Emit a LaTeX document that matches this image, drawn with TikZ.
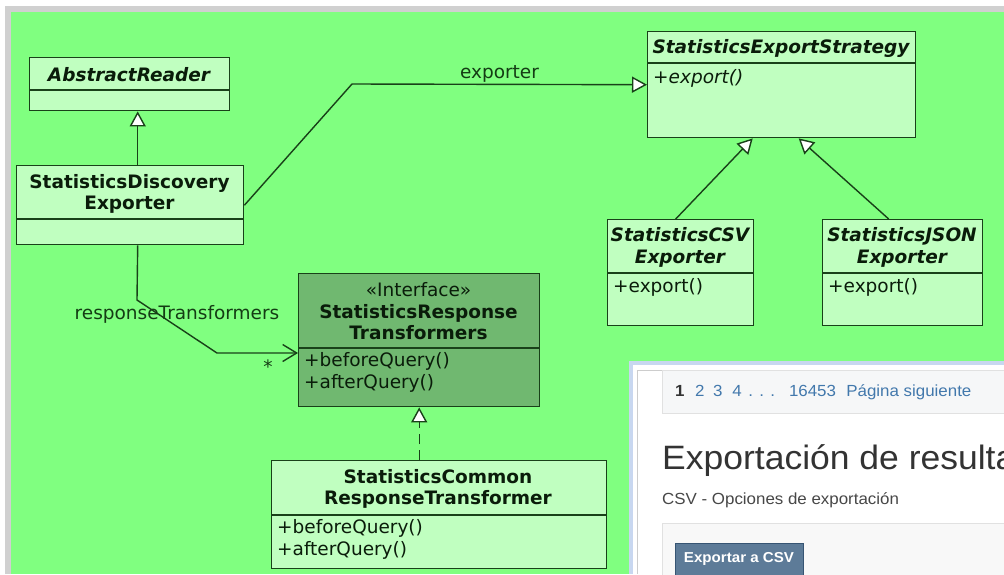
\documentclass[tikz,border=0pt]{standalone}
\usepackage{fontspec}
\usepackage{tikz}
\usetikzlibrary{arrows.meta}

\newfontfamily\umlfont{DejaVu Sans}
\newfontfamily\webfont[FakeStretch=1.05]{Liberation Sans}
\newcommand{\umlsize}{\fontsize{18.5}{21.5}\selectfont}
\newcommand{\opsize}{\fontsize{18.5}{22}\selectfont}

\definecolor{bggreen}{RGB}{128,255,128}
\definecolor{framegray}{RGB}{208,208,208}
\definecolor{boxfill}{RGB}{192,255,192}
\definecolor{ifacefill}{RGB}{112,184,112}
\definecolor{umlline}{RGB}{25,65,25}
\definecolor{umltext}{RGB}{10,28,10}
\definecolor{labeltext}{RGB}{20,60,20}
\definecolor{webframe}{RGB}{200,215,240}
\definecolor{webgray}{RGB}{205,205,205}
\definecolor{pagerfill}{RGB}{246,247,248}
\definecolor{panelfill}{RGB}{248,248,248}
\definecolor{linkblue}{RGB}{66,120,172}
\definecolor{webdark}{RGB}{51,51,51}
\definecolor{btnfill}{RGB}{93,123,152}
\definecolor{btnline}{RGB}{55,85,115}

\tikzset{
  classbox/.style={draw=umlline, fill=boxfill, line width=1.4pt, anchor=north west, inner sep=0pt},
  ifacebox/.style={classbox, fill=ifacefill},
  cname/.style={font=\umlfont\umlsize\bfseries, text=umltext, align=center, inner sep=0pt},
  aname/.style={cname, font=\umlfont\umlsize\bfseries\itshape},
  ops/.style={font=\umlfont\opsize, text=umltext, align=left, anchor=north west, inner sep=0pt},
  rolelabel/.style={font=\umlfont\umlsize, text=labeltext, inner sep=0pt},
  conn/.style={draw=umlline, line width=1.4pt},
  inherit/.style={conn, -{Triangle[fill=white, length=15pt, width=16pt]}},
  realize/.style={inherit, dash pattern=on 10pt off 6pt},
  navig/.style={conn, -{Straight Barb[length=14pt, width=17pt]}},
  webtext/.style={font=\webfont\fontsize{16.1}{19}\selectfont, inner sep=0pt, anchor=base west},
}

\begin{document}
\begin{tikzpicture}[x=1pt, y=-1pt]
  \useasboundingbox (0,0) rectangle (1004,574);
  \clip (0,0) rectangle (1004,574);

  % canvas
  \fill[white] (0,0) rectangle (1004,574);
  \fill[framegray] (5,6) rectangle (1004,574);
  \fill[bggreen] (11,12) rectangle (1004,574);

  % classes
  \node[classbox, minimum width=200pt, minimum height=53pt] (reader) at (29,57) {};
  \draw[conn] ([yshift=-33pt]reader.north west) -- ([yshift=-33pt]reader.north east);
  \node[aname] (readertitle) at (129,74.5) {AbstractReader};

  \node[classbox, minimum width=227pt, minimum height=79pt] (disc) at (16,165) {};
  \draw[conn] ([yshift=-54pt]disc.north west) -- ([yshift=-54pt]disc.north east);
  \node[cname] (disctitle) at (129.5,194) {StatisticsDiscovery\\Exporter};

  \node[classbox, minimum width=268pt, minimum height=106pt] (strat) at (647,31) {};
  \draw[conn] ([yshift=-32pt]strat.north west) -- ([yshift=-32pt]strat.north east);
  \node[aname] (strattitle) at (781,48) {StatisticsExportStrategy};
  \node[ops, font=\umlfont\opsize\itshape] (stratops) at (653,69) {+export()};

  \node[classbox, minimum width=146pt, minimum height=106pt] (csv) at (607,219) {};
  \draw[conn] ([yshift=-54pt]csv.north west) -- ([yshift=-54pt]csv.north east);
  \node[aname] (csvtitle) at (680,247.5) {StatisticsCSV\\Exporter};
  \node[ops] (csvops) at (613,278) {+export()};

  \node[classbox, minimum width=160pt, minimum height=106pt] (json) at (822,219) {};
  \draw[conn] ([yshift=-54pt]json.north west) -- ([yshift=-54pt]json.north east);
  \node[aname] (jsontitle) at (902,247.5) {StatisticsJSON\\Exporter};
  \node[ops] (jsonops) at (828,278) {+export()};

  \node[ifacebox, minimum width=241pt, minimum height=133pt] (iface) at (298,273) {};
  \draw[conn] ([yshift=-75pt]iface.north west) -- ([yshift=-75pt]iface.north east);
  \node[cname] (ifacetitle) at (418.5,311.5) {{\mdseries «Interface»}\\StatisticsResponse\\Transformers};
  \node[ops] (ifaceops) at (304,352) {+beforeQuery()\\+afterQuery()};

  \node[classbox, minimum width=335pt, minimum height=108pt] (common) at (271,460) {};
  \draw[conn] ([yshift=-55pt]common.north west) -- ([yshift=-55pt]common.north east);
  \node[cname] (commontitle) at (438,489) {StatisticsCommon\\ResponseTransformer};
  \node[ops] (commonops) at (277,519) {+beforeQuery()\\+afterQuery()};

  % relations
  \coordinate (expbend) at (352,84);
  \coordinate (rtdown) at (137,300);
  \coordinate (rtbend) at (217,353);

  \draw[inherit] ([xshift=7.5pt]disc.north) -- ([xshift=7.5pt]disc.north |- reader.south);
  \draw[inherit] (disc.east) -- (expbend) -- node[rolelabel, above=1.5pt] {exporter} (strat.west);
  \draw[inherit] ([xshift=-5pt]csv.north) -- ([xshift=-29pt]strat.south);
  \draw[inherit] ([xshift=-14pt]json.north) -- ([xshift=17pt]strat.south);
  \draw[navig] ([xshift=7.5pt]disc.south) -- (rtdown)
    -- node[rolelabel, pos=0.5, yshift=12pt] {responseTransformers} (rtbend)
    -- node[rolelabel, pos=0.63, anchor=base, yshift=-20pt] {*} (rtbend -| iface.west);
  \draw[realize] (iface.south |- common.north) -- (iface.south);

  % web page capture
  \fill[white] (629,361) rectangle (1004,574);
  \draw[line width=4pt, webframe] (631,574) -- (631,363) -- (1004,363);
  \draw[line width=1pt, webgray] (637.5,574) -- (637.5,370) -- (1004,370);
  \filldraw[fill=pagerfill, draw=webgray!60, line width=0.8pt] (662,370) rectangle (1010,413);
  \node[webtext, text=linkblue] (pager) at (675,396.5)
    {{\color{webdark}\bfseries 1}\hspace{10.5pt}2\hspace{8.7pt}3\hspace{9.7pt}4\hspace{6.7pt}. . .\hspace{14pt}16453\hspace{10.4pt}Página siguiente};
  \node[webtext, font=\webfont\fontsize{33.8}{39}\selectfont, text=webdark] (pagetitle) at (662,469) {Exportación de resulta};
  \node[webtext, text=webdark!90] (csvopts) at (662,504) {CSV - Opciones de exportación};
  \filldraw[fill=panelfill, draw=webgray!60, line width=0.8pt] (662,523) rectangle (1010,580);
  \node[draw=btnline, fill=btnfill, line width=0.8pt, minimum width=128pt, minimum height=32pt, inner sep=0pt,
    font=\webfont\fontsize{14.4}{17}\selectfont\bfseries, text=white] (csvbutton) at (739,559) {Exportar a CSV};
\end{tikzpicture}
\end{document}
